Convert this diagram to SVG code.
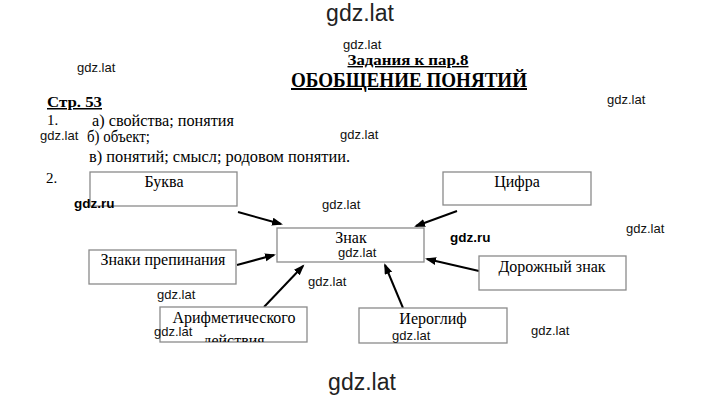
<svg xmlns="http://www.w3.org/2000/svg" width="720" height="403" viewBox="0 0 720 403">
<style>
.t{font-family:"Liberation Serif","Times New Roman",serif;fill:#000}
.lbl{font-size:16px;text-anchor:middle}
.box{fill:#fff;stroke:#8a8a8a;stroke-width:1.3}
.wm{font-family:"Liberation Sans",Arial,sans-serif;font-size:13px;fill:#111}
.wmb{font-family:"Liberation Sans",Arial,sans-serif;font-size:13.5px;font-weight:bold;fill:#000}
.con{stroke:#000;stroke-width:2;fill:none}
</style>
<defs>
<marker id="ah" markerUnits="userSpaceOnUse" markerWidth="12" markerHeight="9" refX="9" refY="4" orient="auto">
<path d="M0,0 L11,4 L0,8 Z" fill="#000"/>
</marker>
<clipPath id="clipA"><rect x="150" y="300" width="170" height="42"/></clipPath>
</defs>
<rect width="720" height="403" fill="#fff"/>

<g id="header">
<text class="t" x="408" y="65" font-size="14" font-weight="bold" text-anchor="middle" textLength="121" lengthAdjust="spacingAndGlyphs" text-decoration="underline">Задания к пар.8</text>
<text class="t" x="409" y="87" font-size="20" font-weight="bold" text-anchor="middle" textLength="236" lengthAdjust="spacingAndGlyphs" text-decoration="underline">ОБОБЩЕНИЕ ПОНЯТИЙ</text>
<text class="t" x="47" y="107" font-size="15" font-weight="bold" textLength="55" lengthAdjust="spacingAndGlyphs" text-decoration="underline">Стр. 53</text>
<text class="t" x="47" y="125" font-size="15">1.</text>
<text class="t" x="92" y="126" font-size="16" textLength="142" lengthAdjust="spacingAndGlyphs">а) свойства; понятия</text>
<text class="t" x="87" y="142" font-size="16" textLength="63" lengthAdjust="spacingAndGlyphs">б) объект;</text>
<text class="t" x="89" y="162" font-size="16" textLength="261" lengthAdjust="spacingAndGlyphs">в) понятий; смысл; родовом понятии.</text>
<text class="t" x="46" y="183" font-size="15">2.</text>
</g>

<g id="connectors">
<line class="con" x1="238" y1="212" x2="281" y2="224" marker-end="url(#ah)"/>
<line class="con" x1="237" y1="265" x2="274" y2="255" marker-end="url(#ah)"/>
<line class="con" x1="264" y1="307" x2="303" y2="266" marker-end="url(#ah)"/>
<line class="con" x1="457" y1="211" x2="416" y2="226" marker-end="url(#ah)"/>
<line class="con" x1="479" y1="271" x2="427" y2="259" marker-end="url(#ah)"/>
<line class="con" x1="403" y1="308" x2="385" y2="265" marker-end="url(#ah)"/>
</g>

<g id="n-bukva">
<rect class="box" x="90" y="172" width="147" height="34"/>
<text class="t lbl" x="164" y="187">Буква</text>
</g>
<g id="n-tsifra">
<rect class="box" x="443" y="172" width="148" height="33"/>
<text class="t lbl" x="517" y="187">Цифра</text>
</g>
<g id="n-znak">
<rect class="box" x="277" y="228" width="147" height="34"/>
<text class="t lbl" x="351" y="243">Знак</text>
</g>
<g id="n-znaki">
<rect class="box" x="89" y="250" width="147" height="34"/>
<text class="t lbl" x="163" y="265">Знаки препинания</text>
</g>
<g id="n-dorozh">
<rect class="box" x="479" y="256" width="147" height="34"/>
<text class="t lbl" x="552" y="272">Дорожный знак</text>
</g>
<g id="n-arifm">
<rect class="box" x="160" y="307" width="147" height="35"/>
<text class="t lbl" x="234" y="323">Арифметического</text>
<text class="t lbl" x="234" y="346" clip-path="url(#clipA)">действия</text>
</g>
<g id="n-ieroglif">
<rect class="box" x="359" y="308" width="148" height="35"/>
<text class="t lbl" x="433" y="324">Иероглиф</text>
</g>

<g id="watermarks">
<text x="360" y="21" font-family="'Liberation Sans',Arial,sans-serif" font-size="23" fill="#222" text-anchor="middle">gdz.lat</text>
<text x="362" y="390" font-family="'Liberation Sans',Arial,sans-serif" font-size="23" fill="#222" text-anchor="middle">gdz.lat</text>
<text class="wm" x="343" y="49">gdz.lat</text>
<text class="wm" x="77" y="72">gdz.lat</text>
<text class="wm" x="607" y="104">gdz.lat</text>
<text class="wm" x="40" y="140">gdz.lat</text>
<text class="wm" x="340" y="139">gdz.lat</text>
<text class="wmb" x="74" y="208">gdz.ru</text>
<text class="wm" x="322" y="209">gdz.lat</text>
<text class="wmb" x="450" y="242">gdz.ru</text>
<text class="wm" x="626" y="233">gdz.lat</text>
<text class="wm" x="338" y="257">gdz.lat</text>
<text class="wm" x="308" y="286">gdz.lat</text>
<text class="wm" x="157" y="299">gdz.lat</text>
<text class="wm" x="154" y="336">gdz.lat</text>
<text class="wm" x="392" y="340">gdz.lat</text>
<text class="wm" x="531" y="335">gdz.lat</text>
</g>
</svg>
